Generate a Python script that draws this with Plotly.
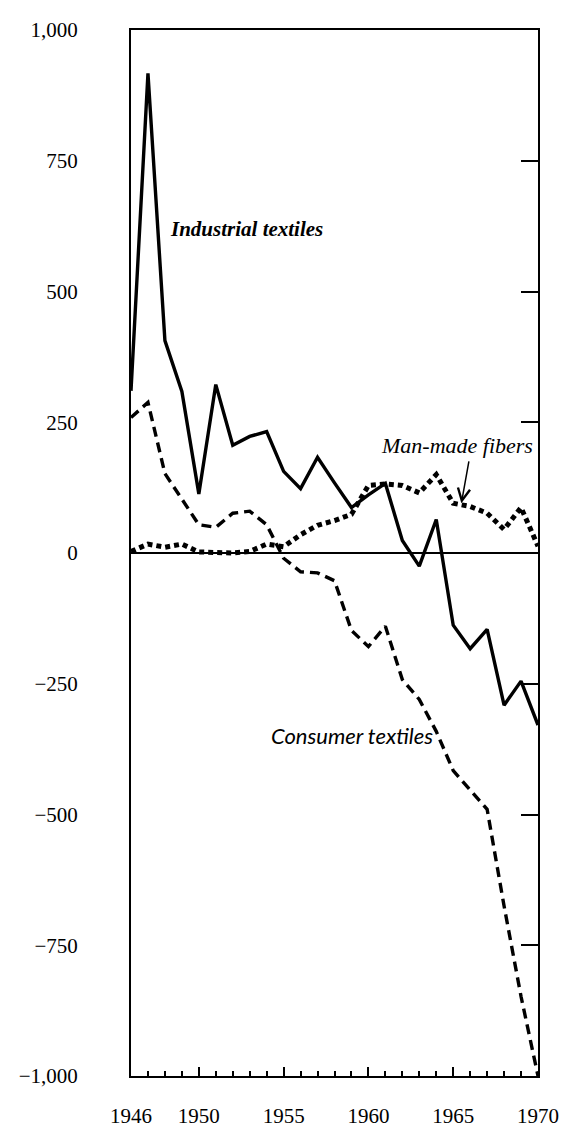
import plotly.graph_objects as go

years = list(range(1946, 1971))

industrial = [310, 917, 406, 309, 113, 322, 206, 223, 232, 156, 123, 183, 134, 87, 111, 133,
              24, -25, 64, -138, -183, -146, -291, -245, -329]
consumer = [259, 288, 152, 104, 54, 49, 76, 80, 54, -10, -36, -38, -53, -148, -179, -140,
            -242, -280, -341, -416, -453, -490, -675, -848, -1000]
manmade = [3, 17, 11, 17, 2, 0, 0, 3, 17, 12, 35, 53, 62, 74, 129, 132,
           129, 115, 150, 95, 89, 76, 45, 87, 13]

y_ticks = [1000, 750, 500, 250, 0, -250, -500, -750, -1000]
y_labels = ["1,000", "750", "500", "250", "0", "\u2212250", "\u2212500", "\u2212750", "\u22121,000"]
x_ticks = [1946, 1950, 1955, 1960, 1965, 1970]
x_labels = ["1946", "1950", "1955", "1960", "1965", "1970"]

fig = go.Figure()
fig.add_trace(go.Scatter(x=years, y=manmade, mode="lines",
                         line=dict(color="black", width=5, dash="5px,4px"), showlegend=False))
fig.add_trace(go.Scatter(x=years, y=consumer, mode="lines",
                         line=dict(color="black", width=3.4, dash="10px,6px"), showlegend=False))
fig.add_trace(go.Scatter(x=years, y=industrial, mode="lines",
                         line=dict(color="black", width=3.4), showlegend=False))
# invisible trace to activate right axis
fig.add_trace(go.Scatter(x=[years[0]], y=[0], yaxis="y2", mode="lines",
                         line=dict(width=0), showlegend=False, hoverinfo="skip"))

tick_font = dict(family="Liberation Serif", size=21, color="black")

fig.update_layout(
    width=561, height=1130,
    margin=dict(l=123, r=24, t=10, b=44),
    paper_bgcolor="white", plot_bgcolor="white",
    xaxis=dict(range=[1946, 1970], tickvals=x_ticks, ticktext=x_labels,
               ticks="inside", ticklen=9, tickwidth=1.5, tickcolor="black",
               minor=dict(dtick=1, tick0=1946, ticks="inside", ticklen=5,
                          tickwidth=1.5, tickcolor="black", showgrid=False),
               showline=True, linecolor="black", linewidth=2, mirror=True,
               showgrid=False, zeroline=False, tickfont=tick_font, ticklabelstandoff=20,
               ticklabeloverflow="allow"),
    yaxis=dict(range=[-1000, 1000], tickvals=y_ticks, ticktext=y_labels,
               ticks="", showline=True, linecolor="black", linewidth=2,
               showgrid=False, zeroline=True, zerolinecolor="black", zerolinewidth=2,
               tickfont=tick_font, ticklabelstandoff=47),
    yaxis2=dict(range=[-1000, 1000], overlaying="y", side="right", tickvals=y_ticks,
                ticks="inside", ticklen=17, tickwidth=2, tickcolor="black",
                showticklabels=False, showline=True, linecolor="black", linewidth=2,
                showgrid=False, zeroline=False),
    annotations=[
        dict(x=1948.2, y=619, xref="x", yref="y", text="<b><i>Industrial textiles</i></b>",
             showarrow=False, xanchor="left", yanchor="middle",
             font=dict(family="Liberation Serif", size=21, color="black")),
        dict(x=1960.6, y=206, xref="x", yref="y", text="<i>Man-made fibers</i>",
             showarrow=False, xanchor="left", yanchor="middle",
             font=dict(family="Liberation Serif", size=22, color="black")),
        dict(x=1954.15, y=-348, xref="x", yref="y", text="<i>Consumer textiles</i>",
             showarrow=False, xanchor="left", yanchor="middle",
             font=dict(family="Lato", size=22, color="black")),
        dict(x=1965.48, y=95, ax=1965.94, ay=178, xref="x", yref="y", axref="x", ayref="y",
             text="", showarrow=True, arrowhead=5, arrowsize=1.6, arrowwidth=1.5,
             arrowcolor="black"),
    ],
)

fig.write_html("out.html")
